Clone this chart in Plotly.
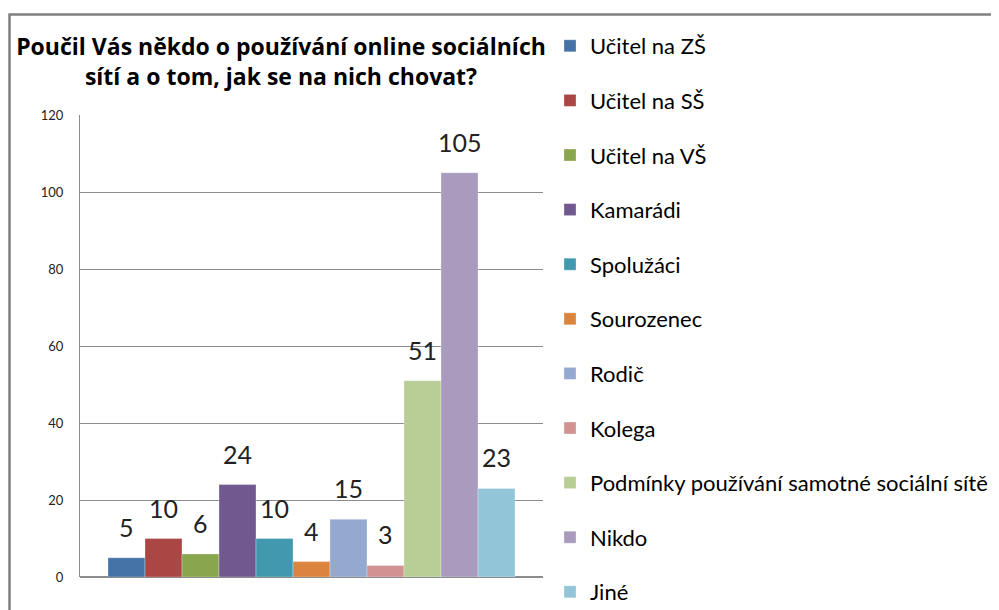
import plotly.graph_objects as go

# data
series = ["Učitel na ZŠ", "Učitel na SŠ", "Učitel na VŠ", "Kamarádi", "Spolužáci",
          "Sourozenec", "Rodič", "Kolega",
          "Podmínky používání samotné sociální sítě", "Nikdo", "Jiné"]
values = [5, 10, 6, 24, 10, 4, 15, 3, 51, 105, 23]
colors = ["#4572A7", "#AA4643", "#89A54E", "#71588F", "#4198AF", "#DB843D",
          "#93A9CF", "#D19392", "#B9CD96", "#A99BBD", "#92C5D7"]
y_ticks = [0, 20, 40, 60, 80, 100, 120]

title = "Poučil Vás někdo o používání online sociálních<br>sítí a o tom, jak se na nich chovat?"

FONT = "Lato, 'Open Sans', sans-serif"
OFF = 8  # page body margin
W, H = 999 - OFF, 610 - OFF
L, T = 80 - OFF, 115 - OFF
R, B = W - (543 - OFF), H - (577 - OFF)
pw, ph = W - L - R, H - T - B


# page pixel -> paper coords
def px_x(p):
    return (p - OFF - L) / pw


def px_y(p):
    return (H - B - (p - OFF)) / ph


fig = go.Figure()
for i, (name, v, c) in enumerate(zip(series, values, colors)):
    fig.add_trace(go.Bar(
        x=[i], y=[v], name=name, width=1,
        marker=dict(color=c, line=dict(color="rgba(255,255,255,0.6)", width=0.5)),
        legendgroup=name,
    ))
    fig.add_annotation(x=i, y=v, text=str(v), showarrow=False,
                       yanchor="bottom", yshift=14,
                       font=dict(size=25, color="#222", family=FONT))

# outer chart frame (cropped on right/bottom in the original)
fig.add_shape(type="rect", xref="paper", yref="paper",
              x0=px_x(9.5), x1=px_x(1010), y0=px_y(620), y1=px_y(14.5),
              line=dict(color="#808080", width=2.5), fillcolor="rgba(0,0,0,0)", layer="below")

pad = (pw / 37 - 11) / 2
fig.update_layout(
    width=W, height=H,
    margin=dict(l=L, r=R, t=T, b=B, autoexpand=False),
    paper_bgcolor="white", plot_bgcolor="white",
    font=dict(family=FONT, color="#000"),
    barmode="overlay",
    showlegend=True,
    title=dict(text="<b>" + title + "</b>", xref="container", x=(281 - OFF) / W, xanchor="center",
               yref="container", y=1 - (55 - OFF) / H, yanchor="top",
               font=dict(size=23, family="'Open Sans', sans-serif", color="#000")),
    legend=dict(xref="container", yref="container",
                x=(550 - OFF) / W, xanchor="left", y=1 - (25 - OFF) / H, yanchor="top",
                font=dict(size=22, family=FONT, color="#000"),
                traceorder="grouped", tracegroupgap=23, maxheight=800,
                itemclick=False, bgcolor="rgba(0,0,0,0)"),
    xaxis=dict(range=[-0.5 - pad, 10.5 + pad], showticklabels=False, showgrid=False,
               zeroline=False, showline=False, fixedrange=True),
    yaxis=dict(range=[0, 120], tickvals=y_ticks, showgrid=True, gridcolor="#8c8c8c",
               gridwidth=1, zeroline=True, zerolinecolor="#8c8c8c", showline=True,
               linecolor="#8c8c8c", linewidth=1, ticks="", ticklabelstandoff=13,
               tickfont=dict(size=13, family=FONT, color="#222")),
)

fig.write_html("out.html")
